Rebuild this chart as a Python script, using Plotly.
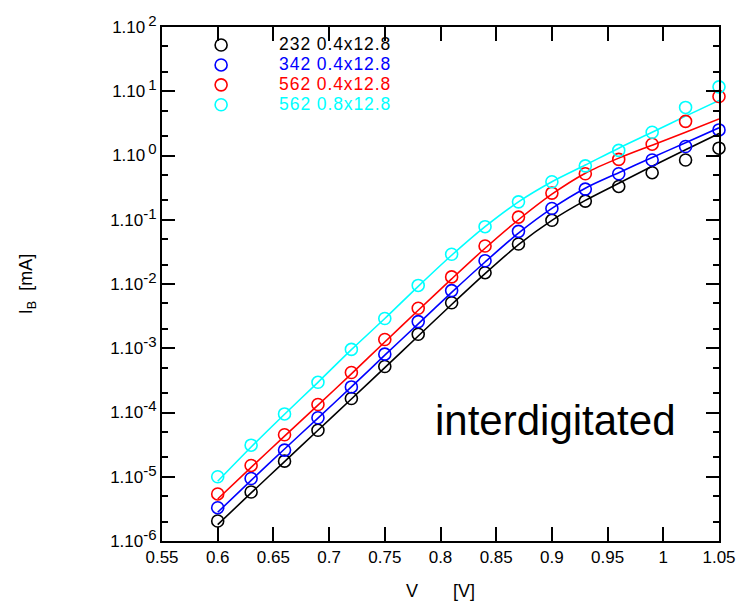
import plotly.graph_objects as go

V = [0.60, 0.63, 0.66, 0.69, 0.72, 0.75, 0.78, 0.81, 0.84, 0.87, 0.90, 0.93, 0.96, 0.99, 1.02, 1.05]

black_pts = [2.05e-6, 5.8e-6, 1.75e-5, 5.3e-5, 1.65e-4, 5.2e-4, 1.65e-3, 5.1e-3, 1.5e-2, 4.2e-2, 0.098, 0.195, 0.33, 0.54, 0.85, 1.3]
blue_pts = [3.3e-6, 9.4e-6, 2.6e-5, 8.3e-5, 2.5e-4, 8.1e-4, 2.6e-3, 7.9e-3, 2.3e-2, 6.6e-2, 0.15, 0.30, 0.52, 0.85, 1.38, 2.5]
red_pts = [5.4e-6, 1.5e-5, 4.5e-5, 1.33e-4, 4.2e-4, 1.37e-3, 4.2e-3, 1.29e-2, 3.9e-2, 0.11, 0.26, 0.52, 0.87, 1.5, 3.4, 8.3]
cyan_pts = [1.0e-5, 3.1e-5, 9.5e-5, 2.95e-4, 9.6e-4, 2.9e-3, 9.5e-3, 2.9e-2, 7.8e-2, 0.19, 0.39, 0.69, 1.2, 2.3, 5.6, 11.7]

black_fit = [1.8e-6, 5.6e-6, 1.72e-5, 5.3e-5, 1.62e-4, 5.0e-4, 1.55e-3, 4.8e-3, 1.45e-2, 4.1e-2, 0.098, 0.20, 0.37, 0.68, 1.23, 2.2]
blue_fit = [2.8e-6, 8.8e-6, 2.7e-5, 8.2e-5, 2.5e-4, 7.8e-4, 2.4e-3, 7.4e-3, 2.2e-2, 6.2e-2, 0.15, 0.31, 0.54, 0.93, 1.58, 2.7]
red_fit = [4.5e-6, 1.4e-5, 4.3e-5, 1.3e-4, 4.0e-4, 1.25e-3, 3.9e-3, 1.2e-2, 3.6e-2, 0.10, 0.25, 0.53, 0.91, 1.45, 2.3, 3.7]
cyan_fit = [8.5e-6, 2.9e-5, 9.4e-5, 2.95e-4, 9.5e-4, 2.9e-3, 9.2e-3, 2.8e-2, 7.8e-2, 0.19, 0.39, 0.71, 1.3, 2.3, 4.1, 7.2]

labels = ["232 0.4x12.8", "342 0.4x12.8", "562 0.4x12.8", "562 0.8x12.8"]
colors = ["#000000", "#0000ff", "#ff0000", "#00ffff"]

x_ticks = [0.55, 0.6, 0.65, 0.7, 0.75, 0.8, 0.85, 0.9, 0.95, 1.0, 1.0499999]
x_ticktext = ["0.55", "0.6", "0.65", "0.7", "0.75", "0.8", "0.85", "0.9", "0.95", "1", "1.05"]
y_exps = [-6, -5, -4, -3, -2, -1, 0, 1, 2]
y_ticks = [10.0 ** e for e in y_exps]
y_ticktext = ["1.10<sup><span style='font-size:15px'>%s</span></sup>" % (e if e < 0 else "\u2009" + str(e)) for e in y_exps]
y_minor = [m * 10.0 ** e for e in y_exps[:-1] for m in (2, 5)]

fig = go.Figure()
fits = [black_fit, blue_fit, red_fit, cyan_fit]
pts = [black_pts, blue_pts, red_pts, cyan_pts]
for lab, col, f, p in zip(labels, colors, fits, pts):
    fig.add_trace(go.Scatter(x=V, y=f, mode="lines", line=dict(color=col, width=1.6, shape="spline", smoothing=0.8),
                             showlegend=False, hoverinfo="skip"))
for lab, col, f, p in zip(labels, colors, fits, pts):
    fig.add_trace(go.Scatter(x=V, y=p, mode="markers", cliponaxis=False,
                             marker=dict(symbol="circle-open", size=12, color=col, line=dict(width=1.6, color=col)),
                             name="<span style='color:%s;font-size:17.5px;letter-spacing:0.9px'>%s</span>" % (col, lab)))

fig.add_annotation(text="interdigitated", xref="paper", yref="paper", x=0.707, y=0.235,
                   xanchor="center", yanchor="middle",
                   showarrow=False, font=dict(size=42, color="black", family="Liberation Sans, Arial"))

axis_common = dict(showline=True, linecolor="black", linewidth=2, mirror="allticks", ticks="inside",
                   tickcolor="black", tickwidth=2, showgrid=False, zeroline=False,
                   tickfont=dict(size=17, color="black", family="Liberation Sans, Arial"))

fig.update_layout(
    width=748, height=610,
    margin=dict(l=162, r=18, t=20, b=57),
    paper_bgcolor="white", plot_bgcolor="white",
    font=dict(family="Liberation Sans, Arial", color="black"),
    xaxis=dict(range=[0.55, 1.05], tickvals=x_ticks, ticktext=x_ticktext, ticklen=14,
               title=dict(text="V&nbsp;&nbsp;&nbsp;&nbsp;&nbsp;&nbsp;&nbsp;[V]", font=dict(size=18), standoff=18),
               **axis_common),
    yaxis=dict(type="log", range=[-6, 2], tickvals=y_ticks, ticktext=y_ticktext, ticklen=13,
               minor=dict(tickvals=y_minor, ticks="inside", ticklen=6, tickwidth=2, tickcolor="black"),
               title=dict(text="I<sub>B</sub>  [mA]", font=dict(size=18), standoff=73),
               **axis_common),
    legend=dict(x=0.002, y=0.994, xanchor="left", yanchor="top", bgcolor="rgba(0,0,0,0)",
                font=dict(size=13), itemwidth=106, tracegroupgap=0),
)

post = ("var s=document.createElement('style');"
        "s.textContent='html,body{margin:0!important;padding:0!important;overflow:hidden!important;}';"
        "document.head.appendChild(s);")
fig.write_html("out.html", post_script=post)
